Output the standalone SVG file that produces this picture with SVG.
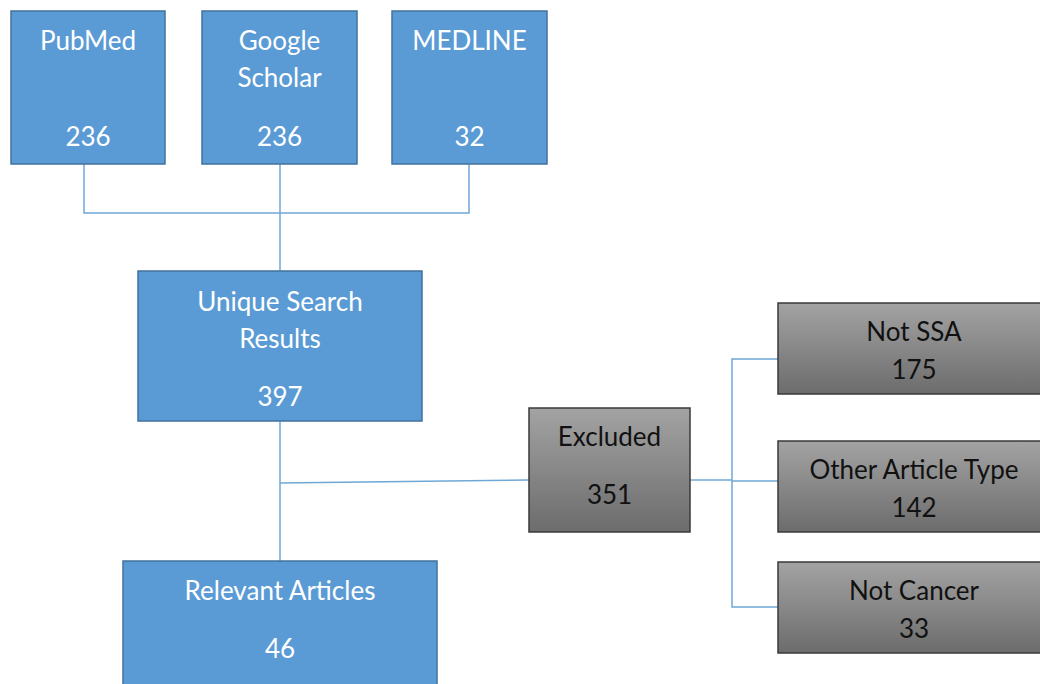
<svg xmlns="http://www.w3.org/2000/svg" width="1040" height="684" viewBox="0 0 1040 684">
<defs>
<linearGradient id="g" x1="0" y1="0" x2="0" y2="1">
<stop offset="0" stop-color="#a3a3a3"/>
<stop offset="1" stop-color="#6c6c6c"/>
</linearGradient>
<style>
.b{fill:#5b9bd5;stroke:#41719c;stroke-width:1.5}
.k{fill:url(#g);stroke:#3a3a3a;stroke-width:1.5}
.tw{font-family:Lato,"Open Sans",sans-serif;font-size:26px;fill:#ffffff;text-anchor:middle}
.tk{font-family:Lato,"Open Sans",sans-serif;font-size:26px;fill:#111111;text-anchor:middle}
.c{fill:none;stroke:#6fa8d6;stroke-width:1.5}
</style>
</defs>
<rect width="1040" height="684" fill="#ffffff"/>
<g id="connectors">
<polyline class="c" points="84,164 84,213 469,213 469,164"/>
<line class="c" x1="280" y1="164" x2="280" y2="271"/>
<line class="c" x1="280" y1="421" x2="280" y2="561"/>
<line class="c" x1="280" y1="483" x2="529" y2="480"/>
<line class="c" x1="690" y1="480" x2="732" y2="480"/>
<polyline class="c" points="778,359 732,359 732,607 778,607"/>
<line class="c" x1="732" y1="481" x2="778" y2="481"/>
</g>
<g id="pubmed">
<rect class="b" x="11" y="11" width="154" height="153"/>
<text class="tw" x="88" y="50">PubMed</text>
<text class="tw" x="88" y="146">236</text>
</g>
<g id="scholar">
<rect class="b" x="202" y="11" width="155" height="153"/>
<text class="tw" x="279.5" y="50">Google</text>
<text class="tw" x="279.5" y="87">Scholar</text>
<text class="tw" x="279.5" y="146">236</text>
</g>
<g id="medline">
<rect class="b" x="392" y="11" width="155" height="153"/>
<text class="tw" x="469.5" y="50">MEDLINE</text>
<text class="tw" x="469.5" y="146">32</text>
</g>
<g id="unique">
<rect class="b" x="138" y="271" width="284" height="150"/>
<text class="tw" x="280" y="311">Unique Search</text>
<text class="tw" x="280" y="348">Results</text>
<text class="tw" x="280" y="406">397</text>
</g>
<g id="excluded">
<rect class="k" x="529" y="408" width="161" height="124"/>
<text class="tk" x="609.5" y="446">Excluded</text>
<text class="tk" x="609.5" y="504">351</text>
</g>
<g id="relevant">
<rect class="b" x="123" y="561" width="314" height="130"/>
<text class="tw" x="280" y="600">Relevant Articles</text>
<text class="tw" x="280" y="658">46</text>
</g>
<g id="notssa">
<rect class="k" x="778" y="303" width="272" height="91"/>
<text class="tk" x="914" y="341">Not SSA</text>
<text class="tk" x="914" y="379">175</text>
</g>
<g id="othertype">
<rect class="k" x="778" y="441" width="272" height="91"/>
<text class="tk" x="914" y="479">Other Article Type</text>
<text class="tk" x="914" y="517">142</text>
</g>
<g id="notcancer">
<rect class="k" x="778" y="562" width="272" height="91"/>
<text class="tk" x="914" y="600">Not Cancer</text>
<text class="tk" x="914" y="638">33</text>
</g>
</svg>
